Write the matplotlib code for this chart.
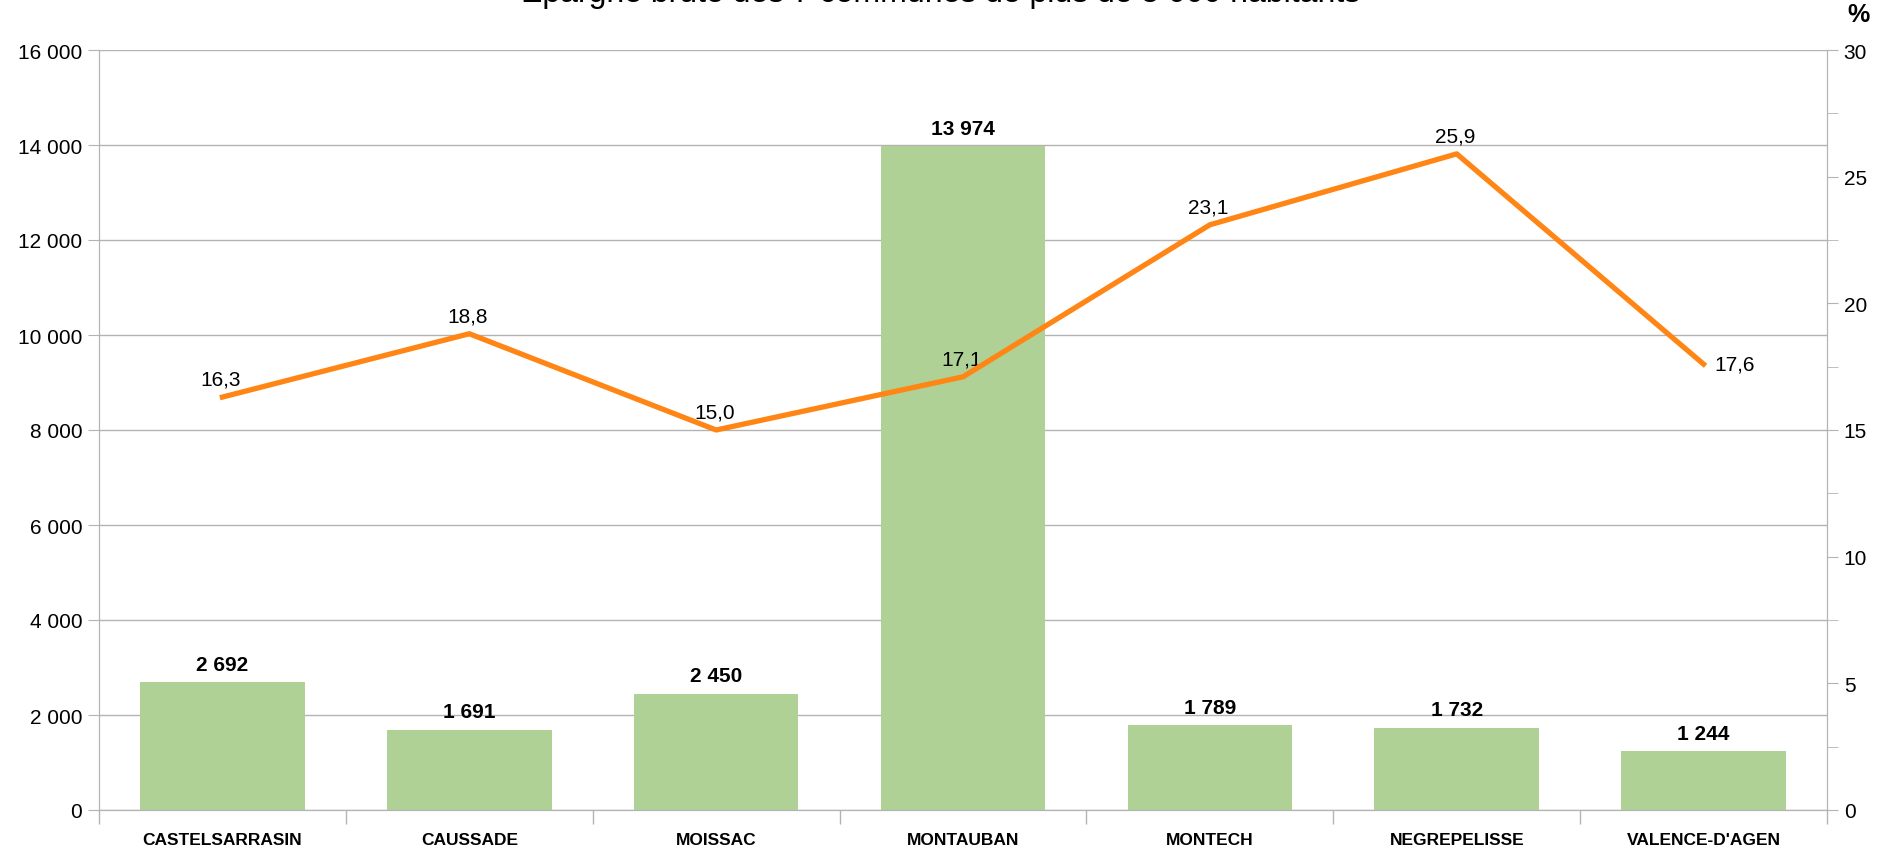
import matplotlib
matplotlib.use("Agg")
import matplotlib.pyplot as plt
from matplotlib.ticker import FuncFormatter, MultipleLocator, FixedLocator
import numpy as np

categories = ["CASTELSARRASIN", "CAUSSADE", "MOISSAC", "MONTAUBAN", "MONTECH", "NEGREPELISSE", "VALENCE-D'AGEN"]
epargne = [2692, 1691, 2450, 13974, 1789, 1732, 1244]
taux = [16.3, 18.8, 15.0, 17.1, 23.1, 25.9, 17.6]

plt.rcParams['font.family'] = ['Liberation Sans', 'DejaVu Sans']

fig = plt.figure(figsize=(18.96, 8.53), dpi=100)
ax = fig.add_axes([99/1896, 1-811/853, (1827-99)/1896, (811-51)/853])
ax2 = ax.twinx()

x = np.arange(len(categories))
bar_color = "#B0D196"
line_color = "#FF8514"
grid_color = "#B3B3B3"

ax.bar(x, epargne, width=0.667, color=bar_color, zorder=2)
ax.set_xlim(-0.5, len(categories) - 0.5)
ax.set_ylim(0, 16000)
ax.yaxis.set_major_locator(MultipleLocator(2000))
ax.yaxis.set_major_formatter(FuncFormatter(lambda v, p: f"{int(v):,}".replace(",", " ")))
ax.grid(axis='y', color=grid_color, linewidth=1, zorder=0)
ax.set_axisbelow(True)

for xi, v in zip(x, epargne):
    ax.annotate(f"{v:,}".replace(",", " "), (xi, v), xytext=(0, 6), textcoords='offset points',
                ha='center', va='bottom', fontsize=15, fontweight='bold')

ax.set_xticks(x)
ax.set_xticklabels(categories, fontsize=12.5, fontweight='bold',
                   family=['Liberation Sans Narrow', 'Liberation Sans', 'DejaVu Sans'])
ax.xaxis.set_minor_locator(FixedLocator(np.arange(-0.5, len(categories), 1.0)))
ax.tick_params(axis='x', which='major', length=0, pad=16)
ax.tick_params(axis='x', which='minor', length=10, color=grid_color, width=1)
ax.tick_params(axis='y', which='major', length=8, color=grid_color, labelsize=15, pad=4)

ax2.plot(x, taux, color=line_color, linewidth=3.8, zorder=5)
ax2.set_ylim(0, 30)
ax2.yaxis.set_major_locator(MultipleLocator(5))
ax2.yaxis.set_minor_locator(MultipleLocator(2.5))
ax2.tick_params(axis='y', which='major', length=8, color=grid_color, labelsize=15, pad=4)
ax2.tick_params(axis='y', which='minor', length=8, color=grid_color)

for i, (xi, v) in enumerate(zip(x, taux)):
    lbl = f"{v:.1f}".replace(".", ",")
    if i == len(taux) - 1:
        ax2.annotate(lbl, (xi, v), xytext=(8, 0), textcoords='offset points',
                     ha='left', va='center', fontsize=15)
    else:
        ax2.annotate(lbl, (xi, v), xytext=(-1, 6), textcoords='offset points',
                     ha='center', va='bottom', fontsize=15)

for a in (ax, ax2):
    for s in a.spines.values():
        s.set_color(grid_color)
    a.spines['top'].set_visible(False)

fig.text(941/1896, 1-2/853, "Épargne brute des 7 communes de plus de 5 000 habitants",
         ha='center', va='baseline', fontsize=23)
fig.text(1858/1896, 1-15/853, "%", ha='center', va='center', fontsize=18, fontweight='bold')

fig.savefig("out.png", dpi=100)
